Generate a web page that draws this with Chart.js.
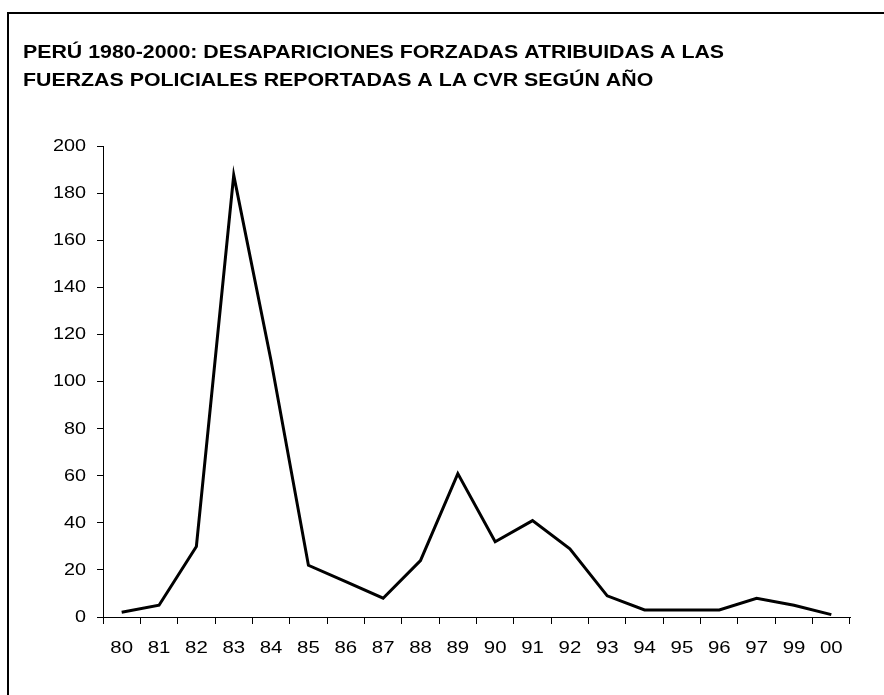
<!DOCTYPE html>
<html>
<head>
<meta charset="utf-8">
<script src="https://cdn.jsdelivr.net/npm/chart.js@4/dist/chart.umd.min.js"></script>
<style>
    html, body { margin: 0; padding: 0; background: #fff; overflow: hidden; }
    #frame { position: absolute; left: 7px; top: 12px; width: 2000px; height: 2000px;
             border-left: 2px solid #000; border-top: 2px solid #000; }
    #wrap { position: absolute; left: 0; top: 0; width: 884px; height: 695px; }
</style>
</head>
<body>
<div id="frame"></div>
<div id="wrap"><canvas id="cvrChart"></canvas></div>
<script>
const years = ['80', '81', '82', '83', '84', '85', '86', '87', '88', '89',
               '90', '91', '92', '93', '94', '95', '96', '97', '99', '00'];
const desaparecidos = [2, 5, 30, 188, 109, 22, 15, 8, 24, 61,
                       32, 41, 29, 9, 3, 3, 3, 8, 5, 1];
const yTicks = [0, 20, 40, 60, 80, 100, 120, 140, 160, 180, 200];
const titleLines = [
    'PERÚ 1980-2000: DESAPARICIONES FORZADAS ATRIBUIDAS A LAS',
    'FUERZAS POLICIALES REPORTADAS A LA CVR SEGÚN AÑO'
];

const fontFamily = "'Liberation Sans', Arial, sans-serif";

// the original text is a bit wider than Arial, stretch it sideways
const wideText = {
    id: 'wideText',
    beforeDraw(chart) {
        const ctx = chart.ctx;
        if (ctx._wide) return;
        const fill = ctx.fillText.bind(ctx);
        ctx.fillText = function (t, x, y) {
            ctx.save();
            ctx.translate(x, y);
            ctx.scale(1.2, 1);
            fill(t, 0, 0);
            ctx.restore();
        };
        ctx._wide = true;
    }
};

new Chart(document.getElementById('cvrChart').getContext('2d'), {
    type: 'line',
    data: {
        labels: years,
        datasets: [{
            data: desaparecidos,
            borderColor: '#000',
            borderWidth: 3,
            pointRadius: 0,
            tension: 0,
            fill: false
        }]
    },
    plugins: [wideText],
    options: {
        responsive: true,
        maintainAspectRatio: false,
        animation: false,
        layout: { padding: { left: 23, right: 34, top: 0, bottom: 28 } },
        plugins: {
            legend: { display: false },
            tooltip: { enabled: false },
            title: {
                display: true,
                text: titleLines,
                align: 'start',
                color: '#000',
                font: { family: fontFamily, size: 17.8, weight: 'bold', lineHeight: 1.57 },
                padding: { top: 39, bottom: 52 }
            }
        },
        scales: {
            y: {
                min: 0,
                max: 200,
                afterBuildTicks: s => { s.ticks = yTicks.map(v => ({ value: v })); },
                afterFit: s => { s.width = 80; },
                ticks: { color: '#000', padding: 11, font: { family: fontFamily, size: 16.5 } },
                grid: { drawOnChartArea: false, tickLength: 6, color: '#000' },
                border: { color: '#000', width: 1 }
            },
            x: {
                offset: true,
                afterFit: s => { s.height = 50; },
                ticks: { color: '#000', padding: 14, maxRotation: 0, autoSkip: false,
                         font: { family: fontFamily, size: 17 } },
                grid: { offset: true, drawOnChartArea: false, tickLength: 7, color: '#000' },
                border: { color: '#000', width: 1 }
            }
        }
    }
});
</script>
</body>
</html>
